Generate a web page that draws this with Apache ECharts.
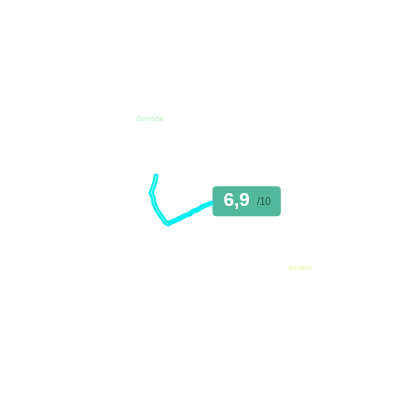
<!DOCTYPE html>
<html><head><meta charset="utf-8">
<script src="https://cdn.jsdelivr.net/npm/echarts@6/dist/echarts.min.js"></script>
<style>html,body{margin:0;padding:0;background:#fff}#c{width:400px;height:400px}</style>
</head><body><div id="c"></div>
<script>
// map view bounds
const lonRange = [4.74, 4.86];
const latRange = [50.885, 50.96];
// route track (lon, lat)
const routeLon = [4.7868,4.7865,4.7859,4.7853,4.7859,4.7862,4.7871,4.7883,4.7895,4.7904,4.7916,4.7934,4.7952,4.7970,4.7979,4.7991,4.8006,4.8021,4.8033];
const routeLat = [50.9270,50.9259,50.9248,50.9238,50.9231,50.9219,50.9206,50.9195,50.9184,50.9180,50.9184,50.9189,50.9195,50.9199,50.9204,50.9206,50.9212,50.9216,50.9219];
// rating
const rating = "6,9";
const ratingMax = "/10";
// place names
const placeNames = ["Gelrode", "Assent"];
const placeLon = [4.7850, 4.8300];
const placeLat = [50.9377, 50.9098];
const placeColors = ["#a8f0b0", "#e6f28a"];

const route = routeLon.map((v, i) => [v, routeLat[i]]);
const places = placeNames.map((n, i) => ({name: n, value: [placeLon[i], placeLat[i]],
  label: {color: placeColors[i]}}));

const chart = echarts.init(document.getElementById('c'));
chart.setOption({
  backgroundColor: '#fff',
  animation: false,
  grid: {left: 0, right: 0, top: 0, bottom: 0},
  xAxis: {type: 'value', min: lonRange[0], max: lonRange[1], show: false},
  yAxis: {type: 'value', min: latRange[0], max: latRange[1], show: false},
  series: [
    {
      type: 'scatter', data: places, symbolSize: 0,
      label: {show: true, position: 'inside', formatter: '{b}', fontSize: 7,
        fontFamily: 'DejaVu Sans'}
    },
    {
      type: 'line', data: route, symbol: 'none',
      lineStyle: {color: '#00f0f0', width: 5, join: 'round', cap: 'round'}
    },
    {
      type: 'line', data: route.slice(0, 10), symbol: 'none',
      lineStyle: {color: '#8ff8f8', width: 1}
    },
    {
      type: 'scatter', symbolSize: 1, itemStyle: {opacity: 0},
      data: [route[route.length - 1]],
      label: {
        show: true, position: 'right', distance: 1, offset: [0, -2], opacity: 1,
        formatter: '{v|' + rating + '}{s|' + ratingMax + '}',
        backgroundColor: '#52b89c', borderRadius: 4, padding: [6, 10, 6, 11],
        rich: {
          v: {fontSize: 19, lineHeight: 18, fontWeight: 'bold', color: '#ffffff', fontFamily: 'Liberation Sans'},
          s: {fontSize: 10, lineHeight: 18, color: '#2b5a4c', fontFamily: 'Liberation Sans', padding: [3, 0, 0, 7]}
        }
      }
    }
  ]
});
</script></body></html>
